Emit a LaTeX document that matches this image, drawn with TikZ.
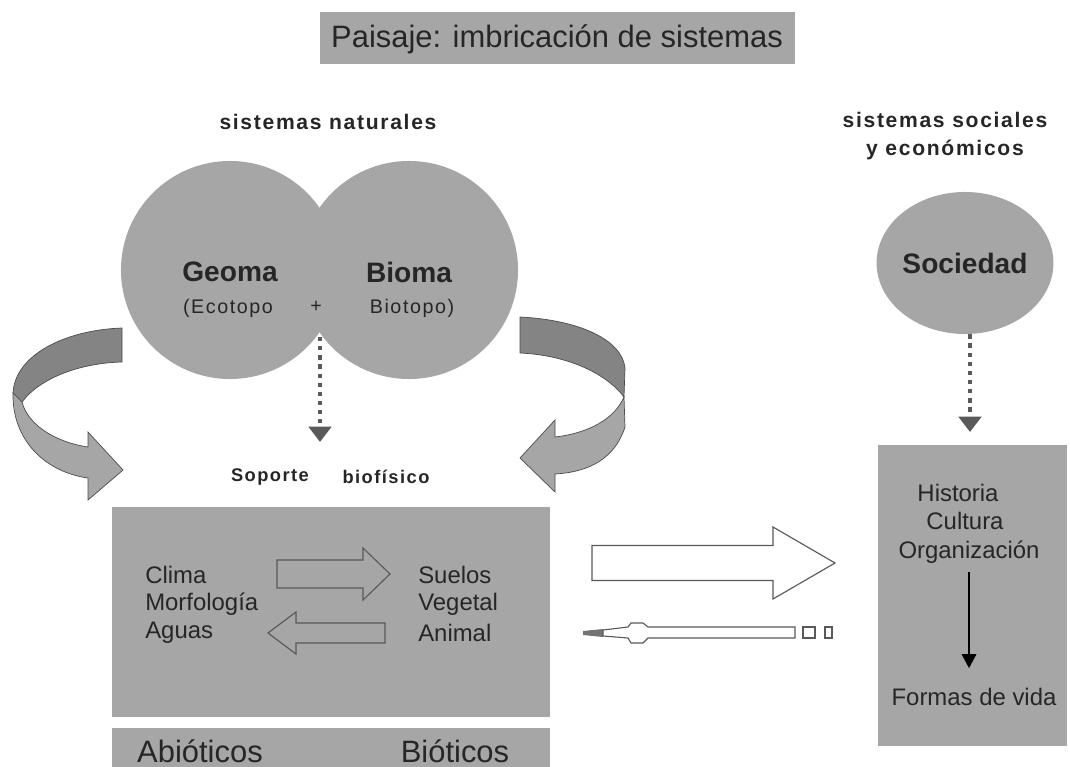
\documentclass[tikz,border=0pt]{standalone}
\usepackage{fontspec}
\setmainfont{Liberation Sans}
\newfontfamily\widesans[LetterSpace=8]{Liberation Sans}
\usetikzlibrary{arrows.meta,shapes.geometric}
\definecolor{panelgray}{HTML}{A6A6A6}
\definecolor{foldgray}{HTML}{848484}
\definecolor{dotgray}{HTML}{5A5A5A}
\definecolor{inkgray}{HTML}{262626}
\def\blockarrow[#1](#2,#3)(#4:#5:#6:#7){\draw[#1] (#2,{#3-#6}) -- (#4,{#3-#6}) -- (#4,{#3-#7}) -- (#5,#3) -- (#4,{#3+#7}) -- (#4,{#3+#6}) -- (#2,{#3+#6}) -- cycle;}

\begin{document}
\begin{tikzpicture}[x=0.025cm, y=-0.025cm,
    plaintext/.style={font=\fontsize{17}{20}\selectfont, text=inkgray, inner sep=0pt},
    headtext/.style={font=\widesans\bfseries\fontsize{15}{20}\selectfont, text=inkgray, inner sep=0pt, align=center},
    supporttext/.style={font=\widesans\bfseries\fontsize{13}{16}\selectfont, text=inkgray, inner sep=0pt},
    systemtext/.style={font=\bfseries\fontsize{20}{24}\selectfont, text=inkgray, inner sep=0pt},
    smalltext/.style={font=\widesans\fontsize{14}{16}\selectfont, text=inkgray, inner sep=0pt},
    dotarrow/.style={dotgray, line width=3.5pt, dash pattern=on 3pt off 3.5pt, -{Triangle[width=16pt,length=11pt]}},
    outline/.style={draw=black!65, line width=0.8pt},
    fold/.style={draw=black!70, line width=0.5pt}]
    %%%%% START %%%%%
    \useasboundingbox (0,0) rectangle (1070,767);

    % title
    \fill[panelgray] (320,12) rectangle (795,64);
    \node[plaintext, font=\fontsize{22}{26}\selectfont] (title) at (557,39) {Paisaje: imbricación de sistemas};

    % natural systems
    \node[headtext] (natural) at (328,122) {sistemas naturales};
    \node (geoma) [circle, fill=panelgray, minimum size=5.45cm] at (230,270) {};
    \node (bioma) [circle, fill=panelgray, minimum size=5.45cm] at (409,270) {};
    \node[systemtext] (geomaname) at (230,272) {Geoma};
    \node[systemtext] (biomaname) at (409,272) {Bioma};
    \node[smalltext] (ecotopo) at (228,308) {(Ecotopo};
    \node[smalltext] (plus) at (316,307) {+};
    \node[smalltext] (biotopo) at (412,308) {Biotopo)};

    \coordinate (junction) at (320,337);
    \coordinate (supporttop) at (320,442);
    \draw[dotarrow] (junction) -- (supporttop);
    \node[supporttext] (soporte) at (270,477) {Soporte};
    \node[supporttext] (biofisico) at (386,477) {biofísico};

    % left turning arrow
    \filldraw[fold, fill=foldgray] (122,328) .. controls (65,330) and (15,355) .. (13,393) -- (22,402) .. controls (40,378) and (80,363) .. (122,362) -- cycle;
    \filldraw[fold, fill=panelgray] (13,393) .. controls (12,440) and (45,472) .. (88,478) -- (88,500) -- (123,470) -- (88,432) -- (88,447) .. controls (55,442) and (28,425) .. (22,402) -- cycle;

    % right turning arrow
    \filldraw[fold, fill=foldgray] (520,317) .. controls (580,320) and (622,340) .. (625,368) -- (624,397) .. controls (605,372) and (565,355) .. (520,353) -- cycle;
    \filldraw[fold, fill=panelgray] (624,397) -- (625,427) .. controls (615,458) and (590,472) .. (555,474) -- (555,492) -- (520,458) -- (555,420) -- (555,437) .. controls (590,433) and (615,418) .. (624,397) -- cycle;

    % biophysical support
    \fill[panelgray] (112,507) rectangle (550,717);
    \fill[panelgray] (112,728) rectangle (550,767);
    \node[plaintext, anchor=west] (clima) at (145,575) {Clima};
    \node[plaintext, anchor=west] (morfologia) at (145,604) {Morfología};
    \node[plaintext, anchor=west] (aguas) at (145,633) {Aguas};
    \node[plaintext, anchor=west] (suelos) at (418,575) {Suelos};
    \node[plaintext, anchor=west] (vegetal) at (418,604) {Vegetal};
    \node[plaintext, anchor=west] (animal) at (418,633) {Animal};
    \blockarrow[outline](277,574)(363:390:14:26)
    \blockarrow[outline](385,633)(296:268:10:21)
    \node[plaintext, font=\fontsize{22}{26}\selectfont, anchor=base] (abioticos) at (200,762) {Abióticos};
    \node[plaintext, font=\fontsize{22}{26}\selectfont, anchor=base] (bioticos) at (455,762) {Bióticos};

    % exchange between both sides
    \blockarrow[outline, fill=white](592,563)(773:835:17.5:36)
    \fill[black!55] (583,631) -- (603,629) -- (603,637) -- (583,635) -- cycle;
    \draw[outline] (603,630) -- (628,627) -- (631,623) -- (643,623) -- (648,627) -- (795,627) -- (795,638) -- (648,638) -- (643,643) -- (631,643) -- (628,638) -- (603,636) -- cycle;
    \draw[outline] (803,627) rectangle (815,638);
    \draw[outline] (825,627) rectangle (832,638);

    % social systems
    \node[headtext] (social) at (945,136) {sistemas sociales\\y económicos};
    \node (sociedad) [ellipse, fill=panelgray, minimum width=3.85cm, minimum height=3.55cm, systemtext] at (965,263) {Sociedad};
    \coordinate (socialtop) at (970,432);
    \draw[dotarrow] (sociedad.south -| socialtop) -- (socialtop);
    \fill[panelgray] (878,445) rectangle (1067,746);
    \node[plaintext] (historia) at (958,493) {Historia};
    \node[plaintext] (cultura) at (965,521) {Cultura};
    \node[plaintext] (organizacion) at (969,552) {Organización};
    \node[plaintext] (formas) at (974,697) {Formas de vida};
    \draw[line width=2pt, -{Triangle[width=10pt,length=10pt]}] ([yshift=-6pt]organizacion.south) -- ([yshift=14pt]organizacion.south |- formas.north);
    %%%%% END %%%%%
\end{tikzpicture}
\end{document}
